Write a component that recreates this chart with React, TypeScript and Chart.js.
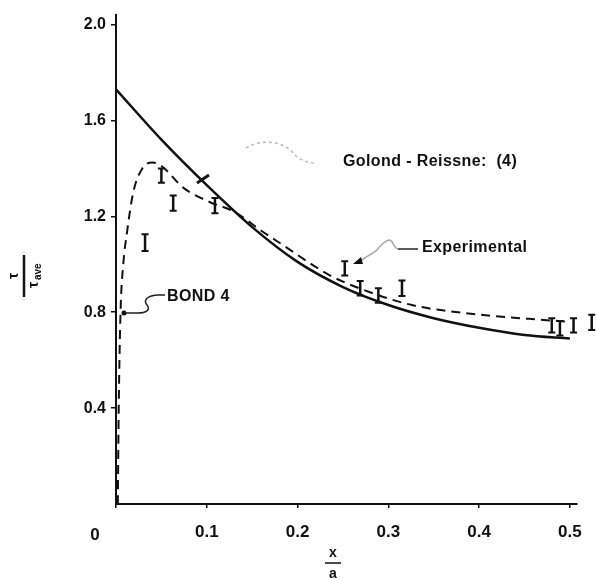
import React, { useEffect, useRef } from "react";
import { Chart, registerables } from "chart.js";

Chart.register(...registerables);

// Goland-Reissner (4) solid curve
const grX = [0, 0.05, 0.1, 0.15, 0.2, 0.25, 0.3, 0.35, 0.4, 0.45, 0.5];
const grY = [1.73, 1.52, 1.33, 1.155, 1.01, 0.905, 0.83, 0.775, 0.735, 0.705, 0.69];

// BOND 4 dashed curve
const bondX = [0.002, 0.003, 0.005, 0.008, 0.012, 0.019, 0.029, 0.04, 0.05, 0.074, 0.103, 0.13, 0.16, 0.18, 0.235, 0.268, 0.326, 0.4, 0.474, 0.5];
const bondY = [0.0, 0.4, 0.8, 1.0, 1.13, 1.3, 1.4, 1.425, 1.41, 1.32, 1.26, 1.22, 1.14, 1.09, 0.955, 0.9, 0.83, 0.79, 0.767, 0.76];

// Experimental points (error bars)
const expX = [0.032, 0.05, 0.063, 0.109, 0.252, 0.269, 0.289, 0.315, 0.48, 0.489, 0.504, 0.524];
const expY = [1.09, 1.37, 1.255, 1.245, 0.983, 0.9, 0.87, 0.9, 0.745, 0.733, 0.745, 0.758];
const expErr = [0.035, 0.03, 0.032, 0.032, 0.03, 0.03, 0.03, 0.032, 0.03, 0.03, 0.03, 0.032];

const xTicks = [0, 0.1, 0.2, 0.3, 0.4, 0.5];
const xTickLabels = ["0", "0.1", "0.2", "0.3", "0.4", "0.5"];
const yTicks = [0.4, 0.8, 1.2, 1.6, 2.0];
const yTickLabels = ["0.4", "0.8", "1.2", "1.6", "2.0"];

const FONT = '"Liberation Sans", Arial, sans-serif';

const annotate = {
  id: "annotate",
  afterDatasetsDraw(chart: any) {
    const { ctx } = chart;
    const xs = chart.scales.x;
    const ys = chart.scales.y;
    ctx.save();
    // error bars
    ctx.strokeStyle = "#111";
    for (let i = 0; i < expX.length; i++) {
      const px = xs.getPixelForValue(expX[i]);
      const top = ys.getPixelForValue(expY[i] + expErr[i]);
      const bot = ys.getPixelForValue(expY[i] - expErr[i]);
      ctx.lineWidth = 2.5;
      ctx.beginPath();
      ctx.moveTo(px, top);
      ctx.lineTo(px, bot);
      ctx.stroke();
      ctx.lineWidth = 2;
      ctx.beginPath();
      ctx.moveTo(px - 3.5, top);
      ctx.lineTo(px + 3.5, top);
      ctx.moveTo(px - 3.5, bot);
      ctx.lineTo(px + 3.5, bot);
      ctx.stroke();
    }

    // texts
    ctx.fillStyle = "#111";
    ctx.textBaseline = "middle";
    ctx.textAlign = "left";
    ctx.font = `bold 16px ${FONT}`;
    try { (ctx as any).letterSpacing = "0.4px"; } catch (e) {}
    ctx.fillText("Golond - Reissne:  (4)", 343, 162);
    ctx.fillText("Experimental", 422, 248);
    ctx.fillText("BOND 4", 167, 297);
    try { (ctx as any).letterSpacing = "0px"; } catch (e) {}

    // Goland leader (faint)
    ctx.strokeStyle = "#bbb";
    ctx.lineWidth = 1.5;
    ctx.setLineDash([3, 3]);
    ctx.beginPath();
    ctx.moveTo(246, 148);
    ctx.bezierCurveTo(258, 140, 282, 138, 296, 156);
    ctx.quadraticCurveTo(303, 162, 314, 163);
    ctx.stroke();
    ctx.setLineDash([]);
    // arrow mark on solid line
    ctx.strokeStyle = "#111";
    ctx.lineWidth = 3;
    ctx.beginPath();
    ctx.moveTo(197, 183);
    ctx.lineTo(209, 175);
    ctx.stroke();

    // Experimental leader
    ctx.strokeStyle = "#222";
    ctx.lineWidth = 1.5;
    ctx.beginPath();
    ctx.moveTo(418, 249);
    ctx.lineTo(398, 249);
    ctx.stroke();
    ctx.strokeStyle = "#aaa";
    ctx.beginPath();
    ctx.moveTo(398, 249);
    ctx.bezierCurveTo(392, 247, 394, 240, 389, 240);
    ctx.quadraticCurveTo(384, 241, 376, 251);
    ctx.lineTo(360, 261);
    ctx.stroke();
    ctx.fillStyle = "#111";
    ctx.beginPath();
    ctx.moveTo(353, 264);
    ctx.lineTo(361, 257);
    ctx.lineTo(363, 264);
    ctx.closePath();
    ctx.fill();

    // BOND 4 leader
    ctx.strokeStyle = "#222";
    ctx.lineWidth = 1.5;
    ctx.beginPath();
    ctx.moveTo(165, 295);
    ctx.lineTo(157, 295);
    ctx.bezierCurveTo(147, 296, 143, 300, 147, 305);
    ctx.bezierCurveTo(151, 310, 146, 313, 138, 313);
    ctx.lineTo(124, 313);
    ctx.stroke();
    ctx.beginPath();
    ctx.arc(124, 313, 2.5, 0, Math.PI * 2);
    ctx.fill();

    // origin label
    ctx.font = `bold 17px ${FONT}`;
    ctx.textAlign = "center";
    ctx.fillText("0", 95, 535);

    // x axis title
    ctx.font = `bold 14px ${FONT}`;
    ctx.fillText("x", 333, 553);
    ctx.fillText("a", 333, 574);
    ctx.lineWidth = 1.5;
    ctx.strokeStyle = "#111";
    ctx.beginPath();
    ctx.moveTo(325, 563);
    ctx.lineTo(341, 563);
    ctx.stroke();

    // y axis title (rotated)
    ctx.save();
    ctx.translate(24, 276);
    ctx.rotate(-Math.PI / 2);
    ctx.beginPath();
    ctx.moveTo(-21, 0);
    ctx.lineTo(21, 0);
    ctx.lineWidth = 2.5;
    ctx.stroke();
    ctx.font = `bold 14px ${FONT}`;
    ctx.textAlign = "center";
    ctx.fillText("τ", 0, -10);
    ctx.textAlign = "left";
    ctx.fillText("τ", -12, 10);
    ctx.font = `bold 10px ${FONT}`;
    ctx.fillText("ave", -4, 14);
    ctx.restore();

    ctx.restore();
  },
};

export default function App() {
  const ref = useRef<HTMLCanvasElement | null>(null);
  useEffect(() => {
    if (!ref.current) return;
    const chart = new Chart(ref.current, {
      type: "line",
      data: {
        datasets: [
          {
            label: "Golond - Reissner (4)",
            data: grX.map((x, i) => ({ x, y: grY[i] })),
            borderColor: "#111",
            borderWidth: 2.5,
            pointRadius: 0,
            cubicInterpolationMode: "monotone",
            fill: false,
          },
          {
            label: "BOND 4",
            data: bondX.map((x, i) => ({ x, y: bondY[i] })),
            borderColor: "#111",
            borderWidth: 2,
            borderDash: [9, 6],
            pointRadius: 0,
            cubicInterpolationMode: "monotone",
            fill: false,
          },
        ],
      },
      options: {
        animation: false,
        responsive: false,
        layout: { padding: { top: 15, right: 19, left: 0, bottom: 0 } },
        plugins: { legend: { display: false }, tooltip: { enabled: false } },
        scales: {
          x: {
            type: "linear",
            min: 0,
            max: 0.507,
            afterBuildTicks: (s: any) => {
              s.ticks = xTicks.map((v) => ({ value: v }));
            },
            afterFit: (s: any) => {
              s.height = 76;
            },
            border: { display: true, color: "#111", width: 2 },
            grid: { drawOnChartArea: false, drawTicks: true, tickLength: 4, color: "#111", lineWidth: 1.5 },
            ticks: {
              color: "#111",
              font: { family: FONT, size: 17, weight: "bold" },
              padding: 14,
              maxRotation: 0,
              autoSkip: false,
              callback: (v: any) => {
                const i = xTicks.indexOf(Number(v));
                return i <= 0 ? "" : xTickLabels[i];
              },
            },
          },
          y: {
            type: "linear",
            min: 0,
            max: 2.04,
            afterBuildTicks: (s: any) => {
              s.ticks = yTicks.map((v) => ({ value: v }));
            },
            afterFit: (s: any) => {
              s.width = 116;
            },
            border: { display: true, color: "#111", width: 2 },
            grid: { drawOnChartArea: false, drawTicks: true, tickLength: 5, color: "#111", lineWidth: 1.5 },
            ticks: {
              color: "#111",
              font: { family: FONT, size: 16, weight: "bold" },
              padding: 5,
              autoSkip: false,
              callback: (v: any) => {
                const i = yTicks.findIndex((t) => Math.abs(t - Number(v)) < 1e-6);
                return i < 0 ? "" : yTickLabels[i];
              },
            },
          },
        },
      },
      plugins: [annotate],
    } as any);
    return () => chart.destroy();
  }, []);
  return (
    <div style={{ position: "fixed", left: 0, top: 0, width: 596, height: 580, background: "#fff" }}>
      <canvas ref={ref} width={596} height={580} />
    </div>
  );
}
